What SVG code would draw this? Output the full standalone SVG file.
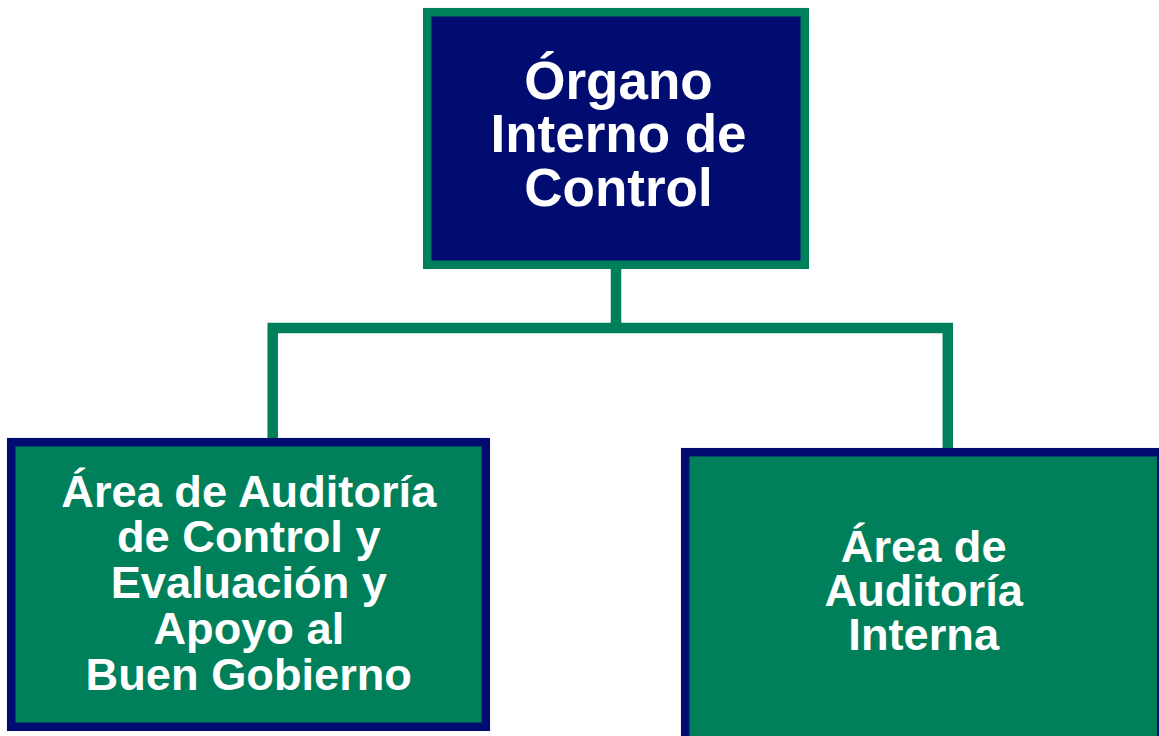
<svg xmlns="http://www.w3.org/2000/svg" width="1159" height="736" viewBox="0 0 1159 736">
<style>
.top{fill:#000C70;stroke:#00805A;stroke-width:8.5}
.sub{fill:#00805A;stroke:#000C70;stroke-width:8.5}
.conn{fill:none;stroke:#00805A;stroke-width:10.5;stroke-linejoin:miter}
text{font-family:"Liberation Sans",Arial,sans-serif;font-weight:bold;fill:#FFFFFF;text-anchor:middle}
.t1{font-size:53px}
.t2{font-size:45.2px}
</style>
<rect width="1159" height="736" fill="#FFFFFF"/>
<g id="connectors">
<path class="conn" d="M616,265 V328 M272.7,438 V328 H947.8 V448"/>
</g>
<g id="node-oic">
<rect class="top" x="427.2" y="12.2" width="377.6" height="252.6"/>
<text class="t1" x="618.5" y="98.5">Órgano</text>
<text class="t1" x="618.5" y="152">Interno de</text>
<text class="t1" x="618.5" y="205.5">Control</text>
</g>
<g id="node-aacebg">
<rect class="sub" x="11.2" y="442.2" width="474.6" height="284.6"/>
<text class="t2" x="248.8" y="506.5">Área de Auditoría</text>
<text class="t2" x="248.8" y="552.3">de Control y</text>
<text class="t2" x="248.8" y="598">Evaluación y</text>
<text class="t2" x="248.8" y="644">Apoyo al</text>
<text class="t2" x="248.8" y="690">Buen Gobierno</text>
</g>
<g id="node-aai">
<rect class="sub" x="685.2" y="452.2" width="476" height="288"/>
<text class="t2" x="923.7" y="561.5">Área de</text>
<text class="t2" x="923.7" y="605.5">Auditoría</text>
<text class="t2" x="923.7" y="650">Interna</text>
</g>
</svg>
